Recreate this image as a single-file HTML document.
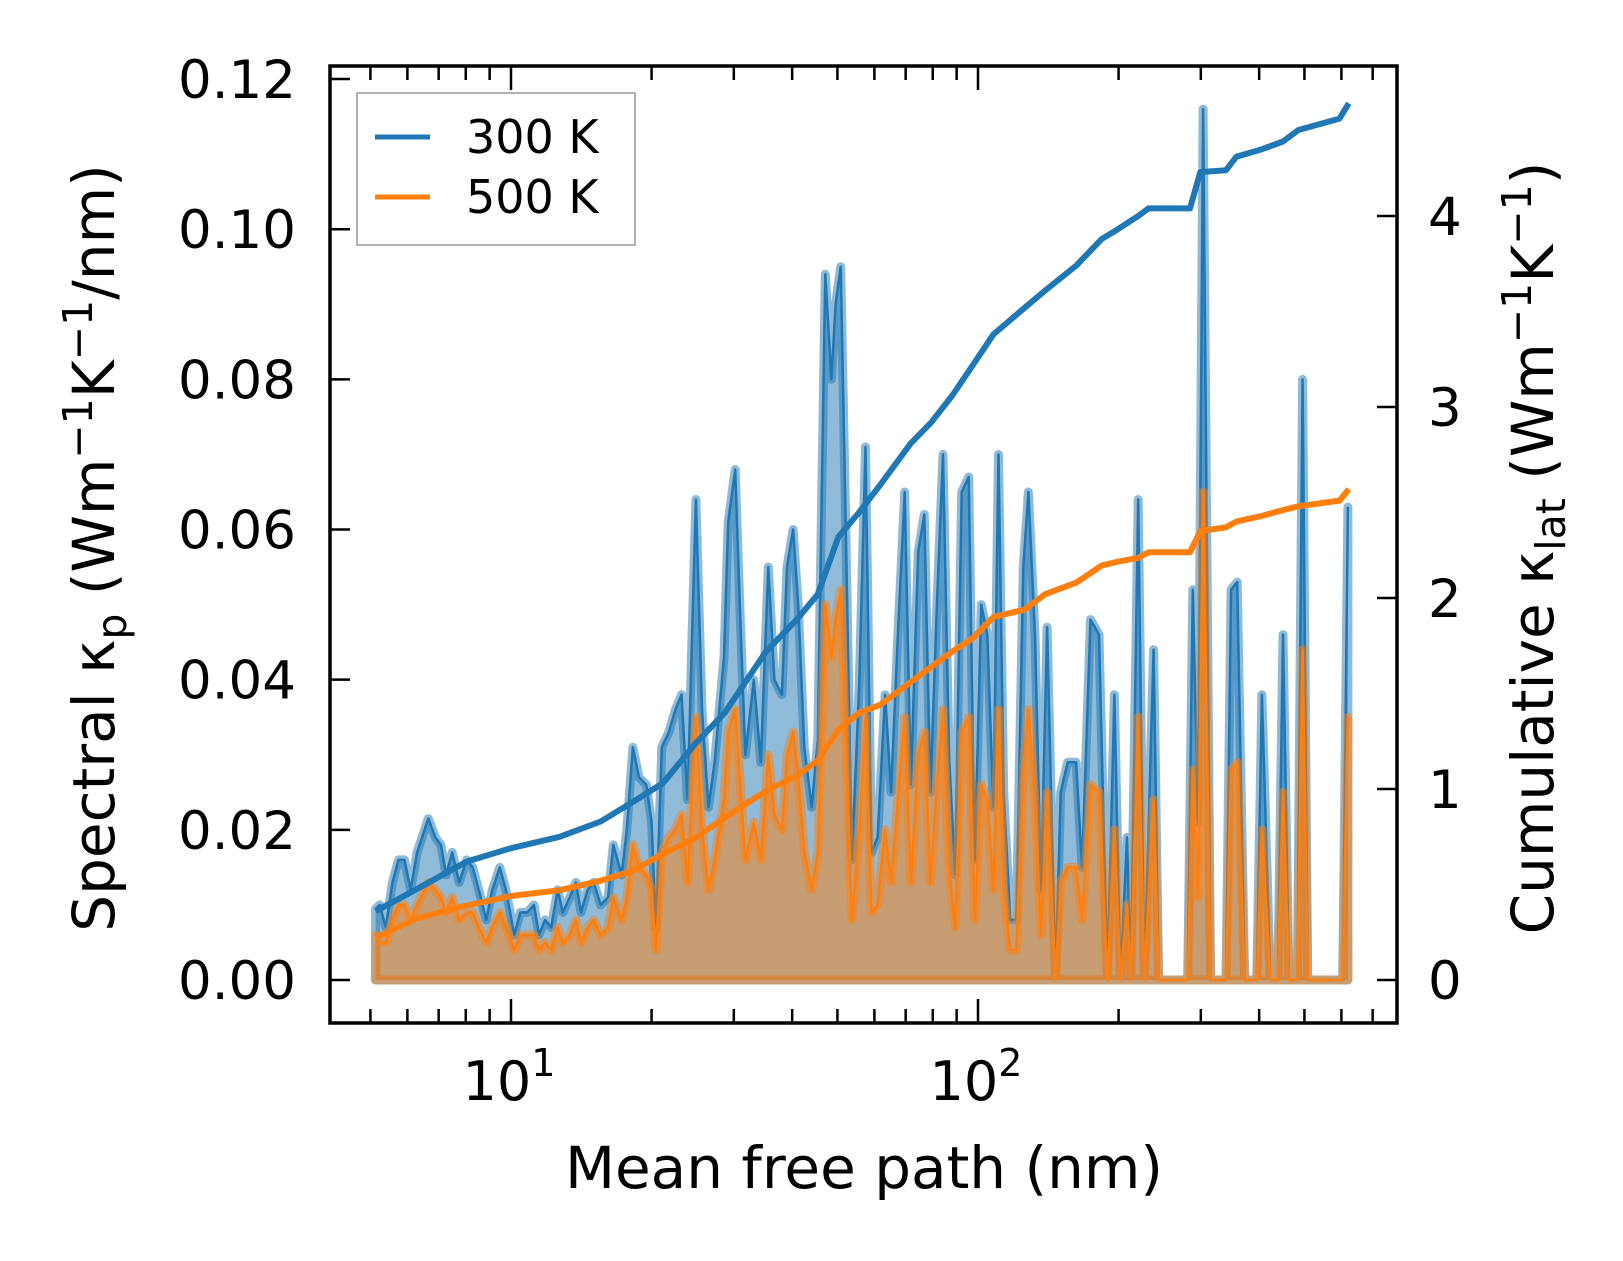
<!DOCTYPE html>
<html><head><meta charset="utf-8">
<style>
html,body{margin:0;padding:0;background:#fff;}
svg{display:block;font-family:"DejaVu Sans","Liberation Sans",sans-serif;}
</style></head>
<body>
<svg id="chart" width="1623" height="1261" viewBox="0 0 1623 1261" xmlns="http://www.w3.org/2000/svg"></svg>
<script>
// log10 of mean free path (nm) for spectral points
const specLogMfp = [0.710,0.719,0.732,0.746,0.759,0.772,0.785,0.799,0.823,0.838,0.850,0.861,0.874,0.889,0.905,0.918,0.931,0.947,0.960,0.976,0.989,1.007,1.020,1.035,1.049,1.060,1.073,1.086,1.100,1.111,1.126,1.139,1.150,1.164,1.177,1.192,1.208,1.219,1.237,1.248,1.261,1.274,1.290,1.301,1.310,1.323,1.338,1.352,1.365,1.378,1.396,1.409,1.423,1.436,1.456,1.465,1.480,1.491,1.502,1.520,1.535,1.551,1.564,1.580,1.591,1.604,1.615,1.628,1.644,1.657,1.673,1.686,1.695,1.706,1.717,1.730,1.746,1.759,1.772,1.785,1.801,1.814,1.827,1.843,1.856,1.872,1.885,1.898,1.912,1.925,1.938,1.951,1.965,1.980,1.993,2.007,2.020,2.033,2.044,2.055,2.069,2.082,2.097,2.108,2.122,2.135,2.148,2.166,2.177,2.192,2.210,2.223,2.241,2.259,2.277,2.292,2.305,2.319,2.327,2.343,2.356,2.376,2.387,2.449,2.460,2.471,2.482,2.498,2.531,2.542,2.555,2.571,2.597,2.608,2.626,2.642,2.653,2.666,2.684,2.695,2.706,2.781,2.792];
const spec300 = [0.0095,0.010,0.007,0.013,0.016,0.016,0.012,0.017,0.0215,0.019,0.018,0.014,0.017,0.013,0.016,0.015,0.012,0.008,0.012,0.015,0.012,0.006,0.009,0.009,0.010,0.006,0.008,0.007,0.012,0.009,0.011,0.013,0.009,0.012,0.013,0.010,0.011,0.018,0.014,0.020,0.031,0.027,0.026,0.021,0.007,0.031,0.033,0.036,0.038,0.024,0.064,0.036,0.023,0.029,0.043,0.061,0.068,0.048,0.030,0.040,0.029,0.055,0.040,0.038,0.055,0.060,0.050,0.031,0.023,0.032,0.094,0.080,0.090,0.095,0.060,0.016,0.040,0.071,0.017,0.019,0.038,0.025,0.044,0.065,0.026,0.057,0.062,0.025,0.050,0.070,0.030,0.014,0.065,0.067,0.016,0.050,0.046,0.023,0.070,0.025,0.008,0.008,0.055,0.065,0.046,0.012,0.047,0.000,0.025,0.029,0.029,0.015,0.048,0.046,0.000,0.038,0.000,0.019,0.000,0.064,0.000,0.044,0.000,0.000,0.052,0.021,0.116,0.000,0.000,0.052,0.053,0.000,0.000,0.038,0.000,0.000,0.046,0.000,0.000,0.080,0.000,0.000,0.063];
const spec500 = [0.006,0.005,0.005,0.008,0.010,0.010,0.008,0.010,0.013,0.012,0.011,0.009,0.011,0.008,0.009,0.009,0.007,0.005,0.007,0.009,0.007,0.004,0.006,0.006,0.006,0.004,0.005,0.004,0.007,0.005,0.006,0.008,0.005,0.007,0.008,0.006,0.007,0.011,0.008,0.011,0.018,0.015,0.014,0.012,0.004,0.017,0.019,0.020,0.022,0.013,0.035,0.020,0.012,0.016,0.024,0.033,0.036,0.026,0.016,0.021,0.016,0.030,0.022,0.020,0.030,0.033,0.027,0.017,0.012,0.017,0.050,0.043,0.048,0.052,0.032,0.008,0.020,0.035,0.009,0.010,0.020,0.013,0.023,0.035,0.013,0.030,0.033,0.013,0.026,0.036,0.015,0.007,0.033,0.035,0.008,0.026,0.024,0.012,0.036,0.012,0.004,0.004,0.028,0.036,0.024,0.006,0.025,0.000,0.013,0.015,0.015,0.008,0.026,0.025,0.000,0.020,0.000,0.010,0.000,0.035,0.000,0.024,0.000,0.000,0.028,0.011,0.065,0.000,0.000,0.028,0.029,0.000,0.000,0.020,0.000,0.000,0.025,0.000,0.000,0.044,0.000,0.000,0.035];
const cumLogMfp = [0.710,0.794,0.905,1.0,1.104,1.192,1.259,1.325,1.392,1.458,1.546,1.613,1.657,1.701,1.746,1.790,1.856,1.900,1.945,1.989,2.033,2.100,2.144,2.210,2.265,2.299,2.343,2.365,2.454,2.476,2.531,2.553,2.608,2.653,2.686,2.774,2.794];
const cum300 = [0.36,0.47,0.62,0.69,0.75,0.83,0.93,1.03,1.23,1.40,1.72,1.89,2.02,2.32,2.45,2.59,2.81,2.92,3.06,3.22,3.38,3.52,3.61,3.74,3.88,3.93,4.00,4.04,4.04,4.23,4.24,4.31,4.35,4.39,4.45,4.51,4.59];
const cum500 = [0.22,0.32,0.39,0.44,0.47,0.52,0.57,0.66,0.74,0.85,0.99,1.07,1.15,1.31,1.40,1.44,1.56,1.64,1.72,1.79,1.90,1.94,2.02,2.08,2.17,2.19,2.21,2.24,2.24,2.35,2.37,2.40,2.43,2.46,2.48,2.51,2.57];
const leftTicks = [0,0.02,0.04,0.06,0.08,0.10,0.12];
const leftTickLabels = ["0.00","0.02","0.04","0.06","0.08","0.10","0.12"];
const rightTicks = [0,1,2,3,4];
const rightTickLabels = ["0","1","2","3","4"];
const xMajorExp = [1,2];

const NS="http://www.w3.org/2000/svg";
const svg=document.getElementById('chart');
const AX={l:330,r:1397,t:66,b:1023};
function X(lg){return 511+(lg-1)*467;}
function YL(v){return 980-v*7508;}
function YR(v){return 980-v*191;}
function mk(tag,attrs,parent){const e=document.createElementNS(NS,tag);for(const k in attrs)e.setAttribute(k,attrs[k]);(parent||svg).appendChild(e);return e;}

const plot=mk('g',{});



function spectral(vals,color,name){
  let line='';
  specLogMfp.forEach((lg,i)=>{const px=X(lg).toFixed(1),py=YL(vals[i]).toFixed(1);line+=(i?'L':'M')+px+','+py;});
  const area=line+'L'+X(specLogMfp[specLogMfp.length-1]).toFixed(1)+','+YL(0)+'L'+X(specLogMfp[0]).toFixed(1)+','+YL(0)+'Z';
  const a=mk('path',{d:area,fill:color,'fill-opacity':0.5,stroke:color,'stroke-opacity':0.5,'stroke-width':9,'stroke-linejoin':'round'},plot);
  
  
  const l=mk('path',{d:line,fill:'none',stroke:color,'stroke-width':2.5,'stroke-linejoin':'round'},plot);
  
  
}
spectral(spec300,'#1f77b4','spectral-300k');
spectral(spec500,'#ff7f0e','spectral-500k');

function cum(vals,color,name){
  let d='';cumLogMfp.forEach((lg,i)=>{d+=(i?'L':'M')+X(lg).toFixed(1)+','+YR(vals[i]).toFixed(1);});
  const l=mk('path',{d:d,fill:'none',stroke:color,'stroke-width':6,'stroke-linejoin':'round'},plot);
  
  
}
cum(cum300,'#1f77b4','cumulative-300k');
cum(cum500,'#ff7f0e','cumulative-500k');

const frame=mk('rect',{x:AX.l,y:AX.t,width:AX.r-AX.l,height:AX.b-AX.t,fill:'none',stroke:'#000','stroke-width':3.5});



for(let e=0;e<=2;e++){
  for(let m=1;m<=9;m++){
    const lg=e+Math.log10(m);const px=X(lg);
    if(px<AX.l||px>AX.r)continue;
    const len=m===1?24:14;
    const t1=mk('line',{x1:px,x2:px,y1:AX.b,y2:AX.b-len,stroke:'#000','stroke-width':2.5});
    
    
    const t2=mk('line',{x1:px,x2:px,y1:AX.t,y2:AX.t+len,stroke:'#000','stroke-width':2.5});
    
    
  }
}
xMajorExp.forEach(e=>{
  const t=mk('text',{x:X(e)-2,y:1100,'font-size':54,'text-anchor':'middle'});
  t.textContent='10';
  const s=document.createElementNS(NS,'tspan');s.setAttribute('dy',-24);s.setAttribute('font-size',38);s.textContent=String(e);t.appendChild(s);
  
  
});
leftTicks.forEach((v,i)=>{
  const py=YL(v);
  const t=mk('line',{x1:AX.l,x2:AX.l+20,y1:py,y2:py,stroke:'#000','stroke-width':2.5});
  
  
  const lb=mk('text',{x:296,y:py+19,'font-size':53,'text-anchor':'end'});
  lb.textContent=leftTickLabels[i];
  
  
});
rightTicks.forEach((v,i)=>{
  const py=YR(v);
  const t=mk('line',{x1:AX.r,x2:AX.r-20,y1:py,y2:py,stroke:'#000','stroke-width':2.5});
  
  
  const lb=mk('text',{x:1428,y:py+19,'font-size':53,'text-anchor':'start'});
  lb.textContent=rightTickLabels[i];
  
  
});
</script>
<svg style="position:absolute;left:0;top:0" width="1623" height="1261">
  <text x="864" y="1188" font-size="58" text-anchor="middle" font-family="DejaVu Sans, Liberation Sans, sans-serif">Mean free path (nm)</text>
  <text transform="translate(114,548) rotate(-90)" font-size="58" text-anchor="middle" font-family="DejaVu Sans, Liberation Sans, sans-serif">Spectral κ<tspan font-size="41" dy="12">p</tspan><tspan dy="-12"> (Wm</tspan><tspan font-size="41" dy="-22">−1</tspan><tspan dy="22">K</tspan><tspan font-size="41" dy="-22">−1</tspan><tspan dy="22">/nm)</tspan></text>
  <text transform="translate(1553,548) rotate(-90)" font-size="58" text-anchor="middle" font-family="DejaVu Sans, Liberation Sans, sans-serif">Cumulative κ<tspan font-size="41" dy="12">lat</tspan><tspan dy="-12"> (Wm</tspan><tspan font-size="41" dy="-22">−1</tspan><tspan dy="22">K</tspan><tspan font-size="41" dy="-22">−1</tspan><tspan dy="22">)</tspan></text>
  <g>
    <rect x="357" y="93" width="278" height="152" fill="#fff" fill-opacity="0.8" stroke="#999" stroke-width="1.5"/>
    <line x1="375" x2="430" y1="137" y2="137" stroke="#1f77b4" stroke-width="5"/>
    <text x="466" y="153" font-size="46" font-family="DejaVu Sans, Liberation Sans, sans-serif">300 K</text>
    <line x1="375" x2="430" y1="197" y2="197" stroke="#ff7f0e" stroke-width="5"/>
    <text x="466" y="213" font-size="46" font-family="DejaVu Sans, Liberation Sans, sans-serif">500 K</text>
  </g>
</svg>
</body></html>
